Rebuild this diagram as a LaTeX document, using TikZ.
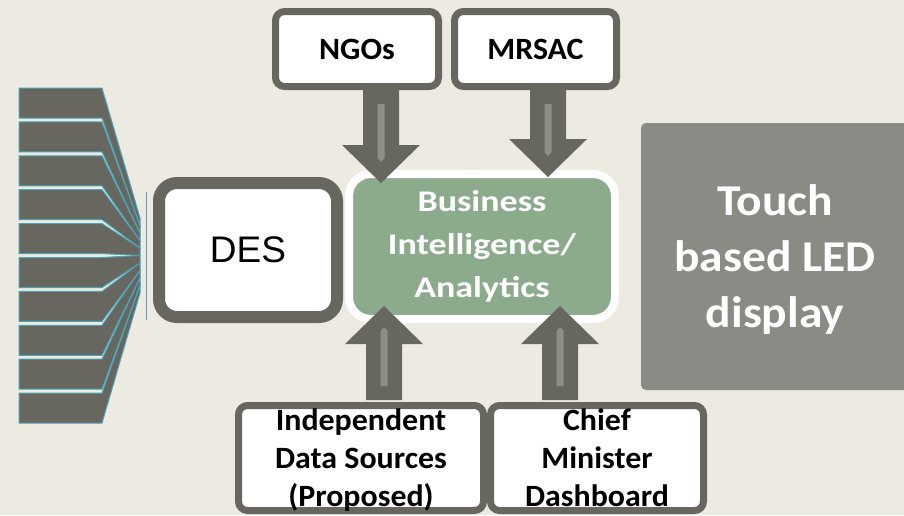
\documentclass[tikz,border=0pt]{standalone}
\usepackage{fontspec}
\setmainfont{Carlito}[FakeStretch=1.03]
\newfontfamily\bifont{Carlito}[FakeStretch=1.2]
\newfontfamily\ledfont{Carlito}[FakeStretch=1.08]
\newfontfamily\desfont{Liberation Sans}
\usepackage{tikz}
\usetikzlibrary{calc}

\definecolor{bg}{RGB}{237,234,226}
\definecolor{boxgray}{RGB}{103,103,96}
\definecolor{stripegray}{RGB}{142,142,135}
\definecolor{bigreen}{RGB}{139,171,140}
\definecolor{ledgray}{RGB}{139,139,133}
\definecolor{combteal}{RGB}{75,165,185}

\newcommand{\nodepth}[1]{\raisebox{0pt}[\height][0pt]{#1}}
\newcommand{\fatarrow}[2]{%
  \coordinate (hb) at ($(#2)!38pt!(#1)$);
  \coordinate (sa) at ($(#1)!14pt!(#2)$);
  \coordinate (sb) at ($(#2)!25pt!(#1)$);
  \fill[boxgray] ($(#1)!18pt!90:(#2)$) -- ($(hb)!18pt!90:(#2)$) -- ($(hb)!39pt!90:(#2)$) -- (#2)
    -- ($(hb)!39pt!-90:(#2)$) -- ($(hb)!18pt!-90:(#2)$) -- ($(#1)!18pt!-90:(#2)$) -- cycle;
  \fill[stripegray] ($(sa)!3.5pt!90:(#2)$) -- ($(sb)!3.5pt!90:(#2)$) -- ($(#2)!21pt!(#1)$)
    -- ($(sb)!3.5pt!-90:(#2)$) -- ($(sa)!3.5pt!-90:(#2)$) -- cycle;
}

\begin{document}
\begin{tikzpicture}[x=1pt, y=-1pt,
  box/.style={draw=boxgray, line width=7pt, fill=white, rounded corners=9pt, inner sep=0pt,
    align=center, font=\bfseries\fontsize{31}{38}\selectfont},
  comb/.style={fill=boxgray, draw=combteal, line width=1pt}]
\useasboundingbox (0,0) rectangle (904,515);
\clip (0,0) rectangle (904,515);
\fill[bg] (0,0) rectangle (904,515);

\foreach \i in {0,...,9}{
  \pgfmathsetmacro{\ytop}{88+33.9*\i}
  \pgfmathsetmacro{\yend}{218+7.5*\i}
  \draw[comb] (19,\ytop) -- (102,\ytop) -- (140,\yend) -- (140,\yend+7.5) -- (102,\ytop+30) -- (19,\ytop+30) -- cycle;
}
\draw[combteal, line width=1pt] (146,192) -- (146,320);

\node[box, line width=12pt, rounded corners=18pt, minimum width=178pt, minimum height=134pt,
  font=\desfont\fontsize{37}{37}\selectfont] (des) at (248,250) {DES};
\node[box, draw=white, line width=8pt, fill=bigreen, text=white, rounded corners=22pt,
  minimum width=266pt, minimum height=145pt, font=\bifont\bfseries\fontsize{30}{43}\selectfont] (bi) at (482,246.5) {Business\\Intelligence/\\Analytics};

\node[box, minimum width=163pt, minimum height=75pt] (ngo) at (357,49) {NGOs};
\node[box, minimum width=162pt, minimum height=75pt] (mrsac) at (535.5,49) {MRSAC};
\node[box, minimum width=245pt, minimum height=105pt] (src) at (361,458) {Independent\\Data Sources\\\nodepth{(Proposed)}};
\node[box, minimum width=213pt, minimum height=105pt] (cm) at (597,458) {Chief\\Minister\\Dashboard};

\node[fill=ledgray, rounded corners=5pt, text=white, align=center, inner sep=0pt,
  minimum width=268pt, minimum height=267pt, font=\ledfont\bfseries\fontsize{44}{56}\selectfont] (led) at (775,256.5) {Touch\\based LED\\\nodepth{display}};

\coordinate (ngoout) at ($(ngo.south)+(24,0)$);
\coordinate (ngoin) at ($(bi.north)+(-101,13)$);
\coordinate (mrsacout) at ($(mrsac.south)+(12.5,0)$);
\coordinate (mrsacin) at ($(bi.north)+(66,7)$);
\coordinate (srcout) at ($(src.north)+(23,-2)$);
\coordinate (srcin) at ($(bi.south)+(-98,-17)$);
\coordinate (cmout) at ($(cm.north)+(-37,-2)$);
\coordinate (cmin) at ($(bi.south)+(78,-17)$);

\fatarrow{ngoout}{ngoin}
\fatarrow{mrsacout}{mrsacin}
\fatarrow{srcout}{srcin}
\fatarrow{cmout}{cmin}
\end{tikzpicture}
\end{document}
